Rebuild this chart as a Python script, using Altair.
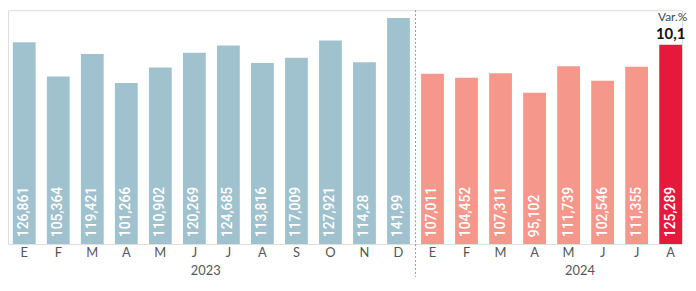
import altair as alt
import pandas as pd

months = ["E", "F", "M", "A", "M", "J", "J", "A", "S", "O", "N", "D",
          "E", "F", "M", "A", "M", "J", "J", "A"]
years = ["2023"] * 12 + ["2024"] * 8
values = [126.861, 105.364, 119.421, 101.266, 110.902, 120.269, 124.685,
          113.816, 117.009, 127.921, 114.28, 141.99,
          107.011, 104.452, 107.311, 95.102, 111.739, 102.546, 111.355, 125.289]
groups = ["2023"] * 12 + ["2024"] * 7 + ["actual"]
year_labels = ["2023", "2024"]
year_pos = [5, 16]          # bar index the year label sits next to
var_title = "Var.%"
var_value = "10,1"

df = pd.DataFrame({
    "idx": list(range(len(values))),
    "month": months,
    "year": years,
    "value": values,
    "label": [str(v).replace(".", ",") for v in values],
    "group": groups,
})
month_map = "{" + ",".join(f"'{i}':'{m}'" for i, m in enumerate(months)) + "}"

xscale = alt.Scale(paddingInner=0.3298, paddingOuter=0.0714, align=1)
x_enc = alt.X("idx:O", scale=xscale,
              axis=alt.Axis(title=None, domain=False, ticks=False, labelAngle=0,
                            labelExpr=f"{month_map}[datum.value]",
                            labelPadding=3, labelFontSize=13, labelColor="#555555",
                            labelFont="Lato"))
yscale = alt.Scale(domain=[0, 146.95], nice=False)

base = alt.Chart(df)

bars = base.mark_bar().encode(
    x=x_enc,
    y=alt.Y("value:Q", scale=yscale, axis=None),
    color=alt.Color("group:N", legend=None,
                    scale=alt.Scale(domain=["2023", "2024", "actual"],
                                    range=["#a0c2ce", "#f5978b", "#e6193c"])),
)

labels = base.mark_text(angle=270, align="left", baseline="middle", dx=7,
                        color="white", fontSize=14, font="Roboto",
                        fontWeight=500).encode(
    x="idx:O",
    y=alt.datum(0),
    text="label:N",
)

sep = base.transform_filter("datum.idx == 11").mark_rule(
    color="#999999", strokeDash=[2, 2], strokeWidth=1, xOffset=5.66).encode(
    x=alt.X("idx:O", bandPosition=1),
    y=alt.value(0),
    y2=alt.value(269),
)

ydf = pd.DataFrame({"idx": year_pos, "txt": year_labels})
yr = alt.Chart(ydf).mark_text(fontSize=13, font="Lato", color="#555555",
                              baseline="middle").encode(
    x=alt.X("idx:O", bandPosition=1.0),
    y=alt.value(263),
    text="txt:N",
)

last = base.transform_filter("datum.idx == 19")
vt = last.mark_text(fontSize=12, font="Lato", color="#444444",
                    baseline="alphabetic", dy=-24, dx=2).encode(
    x=alt.X("idx:O", bandPosition=0.5), y=alt.Y("value:Q", scale=yscale),
    text=alt.value(var_title))
vv = last.mark_text(fontSize=15, font="Lato", fontWeight="bold", color="#111111",
                    baseline="alphabetic", dy=-6).encode(
    x=alt.X("idx:O", bandPosition=0.5), y=alt.Y("value:Q", scale=yscale),
    text=alt.value(var_value))

chart = alt.layer(bars, labels, sep, yr, vt, vv).properties(
    width=680, height=236,
    padding={"left": 0, "top": 0, "right": 0, "bottom": 0},
).configure_view(stroke=None).configure(background="white")

chart.save("out.html", embed_options={"renderer": "svg", "actions": False})
